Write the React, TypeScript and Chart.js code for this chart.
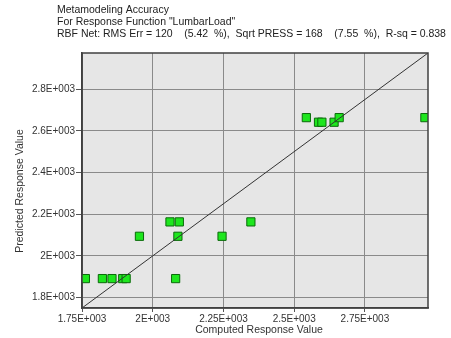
import React, { useEffect, useRef } from "react";
import { Chart, registerables } from "chart.js";

Chart.register(...registerables);

const titleLines = [
  "Metamodeling Accuracy",
  'For Response Function "LumbarLoad"',
  "RBF Net: RMS Err = 120    (5.42  %),  Sqrt PRESS = 168    (7.55  %),  R-sq = 0.838",
];
const xAxisTitle = "Computed Response Value";
const yAxisTitle = "Predicted Response Value";

const computed = [
  1762, 1822, 1856, 1894, 1906, 2081,
  1953, 2089, 2245, 2061, 2094, 2347,
  2586, 2598, 2641, 2543, 2659, 2962,
];
const predicted = [
  1891, 1891, 1891, 1891, 1891, 1891,
  2094, 2094, 2094, 2163, 2163, 2163,
  2641, 2641, 2641, 2663, 2663, 2663,
];

const axisMin = 1750;
const axisMax = 2973;

const xTicks = [1750, 2000, 2250, 2500, 2750];
const xTickLabels = ["1.75E+003", "2E+003", "2.25E+003", "2.5E+003", "2.75E+003"];
const yTicks = [1800, 2000, 2200, 2400, 2600, 2800];
const yTickLabels = ["1.8E+003", "2E+003", "2.2E+003", "2.4E+003", "2.6E+003", "2.8E+003"];

const FONT = "'Liberation Sans', Arial, sans-serif";

export default function App() {
  const ref = useRef<HTMLCanvasElement | null>(null);

  useEffect(() => {
    document.body.style.margin = "0";
    const canvas = ref.current;
    if (!canvas) return;

    const decor = {
      id: "decor",
      beforeDraw(chart: any) {
        const { ctx, chartArea: a } = chart;
        ctx.save();
        ctx.fillStyle = "#ffffff";
        ctx.fillRect(0, 0, chart.width, chart.height);
        ctx.fillStyle = "#e6e6e6";
        ctx.fillRect(a.left, a.top, a.right - a.left, a.bottom - a.top);
        ctx.restore();
      },
      afterDraw(chart: any) {
        const { ctx, chartArea: a } = chart;
        ctx.save();
        ctx.strokeStyle = "#404040";
        ctx.lineWidth = 1.5;
        ctx.strokeRect(a.left, a.top, a.right - a.left, a.bottom - a.top);
        ctx.fillStyle = "#222222";
        ctx.font = "11px " + FONT;
        const w = ctx.measureText(titleLines[2]).width;
        const size = Math.min(11, (11 * 389) / w);
        ctx.font = size.toFixed(2) + "px " + FONT;
        ctx.textAlign = "left";
        ctx.textBaseline = "alphabetic";
        const baselines = [12.5, 25, 37];
        titleLines.forEach((t, i) => ctx.fillText(t, 57, baselines[i]));
        ctx.font = "10.5px " + FONT;
        ctx.textAlign = "center";
        ctx.textBaseline = "middle";
        ctx.fillStyle = "#333333";
        ctx.fillText(xAxisTitle, 259, 330);
        ctx.translate(20, 191);
        ctx.rotate(-Math.PI / 2);
        ctx.fillText(yAxisTitle, 0, 0);
        ctx.restore();
      },
    };

    const chart = new Chart(canvas, {
      type: "scatter",
      data: {
        datasets: [
          {
            type: "line",
            data: [
              { x: axisMin, y: axisMin },
              { x: axisMax, y: axisMax },
            ],
            borderColor: "#333333",
            borderWidth: 1,
            pointRadius: 0,
            fill: false,
          } as any,
          {
            data: computed.map((x, i) => ({ x, y: predicted[i] })),
            pointStyle: "rect",
            pointRadius: 5.8,
            backgroundColor: "#1ee61e",
            borderColor: "#0a6a0a",
            borderWidth: 1,
          },
        ],
      },
      options: {
        animation: false,
        responsive: false,
        layout: { padding: { left: 0, top: 53, right: 23, bottom: 0 } },
        plugins: {
          legend: { display: false },
          tooltip: { enabled: false },
          title: { display: false },
        },
        scales: {
          x: {
            type: "linear",
            min: axisMin,
            max: axisMax,
            afterFit(scale: any) {
              scale.height = 30;
            },
            afterBuildTicks(scale: any) {
              scale.ticks = xTicks.map((v) => ({ value: v }));
            },
            ticks: {
              padding: 1,
              color: "#333333",
              font: { family: FONT, size: 10 },
              maxRotation: 0,
              autoSkip: false,
              callback: (v: any) => {
                const i = xTicks.indexOf(Number(v));
                return i >= 0 ? xTickLabels[i] : "";
              },
            },
            grid: {
              color: "#8a8a8a",
              lineWidth: 1,
              tickLength: 4,
              tickColor: "#555555",
              drawTicks: true,
            },
            border: { display: true, color: "#404040", width: 1.5 },
          },
          y: {
            type: "linear",
            min: axisMin,
            max: axisMax,
            afterFit(scale: any) {
              scale.width = 82;
            },
            afterBuildTicks(scale: any) {
              scale.ticks = yTicks.map((v) => ({ value: v }));
            },
            ticks: {
              padding: 1,
              color: "#333333",
              font: { family: FONT, size: 10 },
              autoSkip: false,
              callback: (v: any) => {
                const i = yTicks.indexOf(Number(v));
                return i >= 0 ? yTickLabels[i] : "";
              },
            },
            grid: {
              color: "#8a8a8a",
              lineWidth: 1,
              tickLength: 6,
              tickColor: "#555555",
            },
            border: { display: true, color: "#404040", width: 1.5 },
          },
        },
      },
      plugins: [decor],
    });

    return () => chart.destroy();
  }, []);

  return (
    <div style={{ position: "absolute", left: 0, top: 0, width: 451, height: 338 }}>
      <canvas ref={ref} width={451} height={338} style={{ width: 451, height: 338 }} />
    </div>
  );
}
